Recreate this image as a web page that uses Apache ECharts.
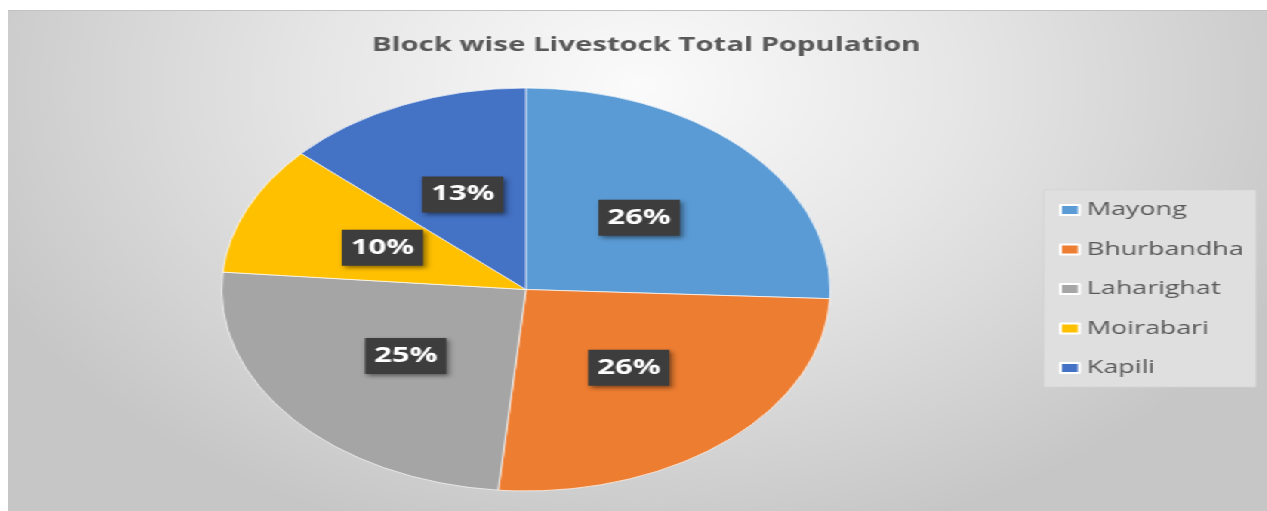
<!DOCTYPE html>
<html>
<head>
<meta charset="utf-8">
<script src="https://cdn.jsdelivr.net/npm/echarts@6/dist/echarts.min.js"></script>
<style>
  html, body { margin: 0; padding: 0; background: #fff; overflow: hidden; }
  /* the source picture is stretched sideways, so the chart is drawn narrow and widened */
  .chart {
    position: absolute;
    left: 8px;
    top: 10px;
    width: 834px;
    height: 501px;
    border-top: 1px solid #c2c2c2;
    box-sizing: border-box;
    transform: scaleX(1.51);
    transform-origin: 0 0;
  }
</style>
</head>
<body>
<div class="chart" id="chart"></div>
<script>
const blocks = ['Mayong', 'Bhurbandha', 'Laharighat', 'Moirabari', 'Kapili'];
const shares = [25.7, 25.7, 24.9, 10.4, 13.2];
const colors = ['#5B9BD5', '#ED7D31', '#A5A5A5', '#FFC000', '#4472C4'];
const titleText = 'Block wise Livestock Total Population';

const chart = echarts.init(document.getElementById('chart'));

const option = {
  animation: false,
  backgroundColor: new echarts.graphic.RadialGradient(0.5, 0.15, 0.95, [
    { offset: 0, color: '#fbfbfb' },
    { offset: 0.45, color: '#e6e6e6' },
    { offset: 1, color: '#c6c6c6' }
  ]),
  color: colors,
  title: {
    text: titleText,
    left: 241,
    top: 25,
    padding: 0,
    textStyle: {
      fontFamily: 'Open Sans',
      fontSize: 19.4,
      fontWeight: 'bold',
      color: '#595959'
    }
  },
  legend: {
    orient: 'vertical',
    left: 686,
    top: 179,
    padding: [10, 8, 9, 10],
    itemGap: 19.5,
    itemWidth: 12.5,
    itemHeight: 10,
    icon: 'rect',
    backgroundColor: '#dfdfdf',
    borderColor: '#d2d2d2',
    borderWidth: 0.7,
    data: blocks,
    textStyle: {
      fontFamily: 'Open Sans',
      fontSize: 17.8,
      lineHeight: 20,
      color: '#595959'
    }
  },
  series: [
    {
      type: 'pie',
      center: [343, 278.5],
      radius: 201.5,
      startAngle: 90,
      clockwise: true,
      silent: true,
      percentPrecision: 0,
      itemStyle: { borderColor: '#ffffff', borderWidth: 0.7 },
      label: {
        show: true,
        position: 'inside',
        formatter: '{d}%',
        fontFamily: 'Open Sans',
        fontSize: 20.5,
        fontWeight: 'bold',
        color: '#ffffff',
        backgroundColor: '#3d3d3d',
        padding: [6, 6, 6, 6],
        lineHeight: 24,
        shadowColor: 'rgba(0,0,0,0.45)',
        shadowBlur: 4,
        shadowOffsetX: 2,
        shadowOffsetY: 2
      },
      labelLine: { show: false },
      data: blocks.map((name, i) => ({ name: name, value: shares[i] }))
    }
  ]
};

chart.setOption(option);
</script>
</body>
</html>
